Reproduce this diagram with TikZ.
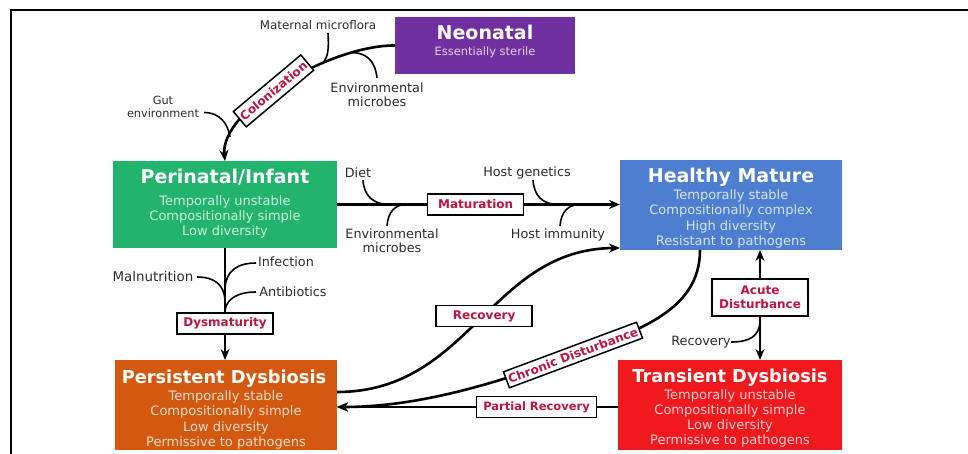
\documentclass[tikz,border=0pt]{standalone}
\usepackage{fontspec}
\setmainfont{DejaVu Sans}
\usetikzlibrary{arrows.meta}
\definecolor{neopurple}{HTML}{7030A0}
\definecolor{perigreen}{HTML}{22B46C}
\definecolor{healblue}{HTML}{4D7ECF}
\definecolor{persorange}{HTML}{D2590F}
\definecolor{tranred}{HTML}{F0191E}
\definecolor{lblred}{HTML}{C0143C}
\definecolor{sidegray}{HTML}{2A2A2A}
\tikzset{
  statebox/.style={draw=none, inner sep=0pt, outer sep=0pt},
  ttl/.style={text=white, font=\bfseries\fontsize{19}{19}\selectfont, anchor=base, inner sep=0pt},
  ttlsm/.style={ttl, font=\bfseries\fontsize{17.8}{19}\selectfont},
  sub/.style={text=#1!22!white, font=\fontsize{13}{14}\selectfont, anchor=base, inner sep=0pt},
  lbl/.style={draw=black, line width=1.5pt, fill=white, text=lblred,
    font=\bfseries\fontsize{12}{14}\selectfont, minimum width=96pt, minimum height=21pt,
    inner sep=2pt, align=center},
  side/.style={text=sidegray, font=\fontsize{12.8}{14}\selectfont, inner sep=0pt, align=center},
  conn/.style={line width=2.6pt},
  arr/.style={conn, -{Stealth[length=11pt,width=9pt]}},
  branch/.style={line width=1.6pt}
}
\begin{document}
\begin{tikzpicture}[x=1pt,y=-1pt]
\useasboundingbox (0,0) rectangle (968,454);
% frame
\draw[line width=2pt] (11,454) -- (11,10.5) -- (968,10.5);

% state boxes
\node[statebox, fill=neopurple, minimum width=180pt, minimum height=57pt] (neo) at (485,45.5) {};
\node[ttl] (neoT) at (485,40) {Neonatal};
\node[sub=neopurple, font=\fontsize{11.5}{12}\selectfont] (neoS) at (485,56) {Essentially sterile};

\node[statebox, fill=perigreen, minimum width=224pt, minimum height=87pt] (peri) at (225,204.5) {};
\node[ttl] (periT) at (225,184) {Perinatal/Infant};
\node[sub=perigreen] (peri1) at (225,206) {Temporally unstable};
\node[sub=perigreen] (peri2) at (225,221) {Compositionally simple};
\node[sub=perigreen] (peri3) at (225,236) {Low diversity};

\node[statebox, fill=healblue, minimum width=222pt, minimum height=90pt] (heal) at (731,205) {};
\node[ttl] (healT) at (731,182.5) {Healthy Mature};
\node[sub=healblue] (heal1) at (731,199.5) {Temporally stable};
\node[sub=healblue] (heal2) at (731,214.5) {Compositionally complex};
\node[sub=healblue] (heal3) at (731,230) {High diversity};
\node[sub=healblue] (heal4) at (731,245) {Resistant to pathogens};

\node[statebox, fill=persorange, minimum width=222pt, minimum height=90pt] (pers) at (226,405) {};
\node[ttlsm] (persT) at (224,383.5) {Persistent Dysbiosis};
\node[sub=persorange] (pers1) at (226,400) {Temporally stable};
\node[sub=persorange] (pers2) at (226,415) {Compositionally simple};
\node[sub=persorange] (pers3) at (226,431) {Low diversity};
\node[sub=persorange] (pers4) at (226,446) {Permissive to pathogens};

\node[statebox, fill=tranred, minimum width=224pt, minimum height=90pt] (tran) at (730,405) {};
\node[ttlsm] (tranT) at (730,382.5) {Transient Dysbiosis};
\node[sub=tranred] (tran1) at (730,399.5) {Temporally unstable};
\node[sub=tranred] (tran2) at (730,414.5) {Compositionally simple};
\node[sub=tranred] (tran3) at (730,429.5) {Low diversity};
\node[sub=tranred] (tran4) at (730,444.5) {Permissive to pathogens};

% ---- colonization
\draw[arr] (neo.west) .. controls (330,45) and (220,110) .. (peri.north)
  node[lbl, rotate=40, pos=0.55, minimum width=88pt, minimum height=20pt, inner sep=1pt] (colon) {Colonization};
\node[side, font=\fontsize{11.9}{13}\selectfont] (matT) at (318,25) {Maternal microflora};
\coordinate (matS) at (328,33);
\coordinate (matJ) at (322,63.6);
\draw[branch] (matS) .. controls (329,50) and (328,58) .. (matJ);
\node[side] (envT) at (377,95) {Environmental\\microbes};
\coordinate (envS) at (377,78);
\coordinate (envJ) at (352,52.5);
\draw[branch] (envS) .. controls (375,60) and (366,53) .. (envJ);
\node[side, font=\fontsize{11.3}{13}\selectfont] (gutT) at (163,106.5) {Gut\\environment};
\coordinate (gutS) at (204,112.5);
\coordinate (gutJ) at (230,137);
\draw[branch] (gutS) .. controls (220,112.5) and (228,124) .. (gutJ);

% ---- maturation
\draw[arr] (peri.east) -- (peri.east -| heal.west)
  node[lbl, pos=0.49] (matur) {Maturation};
\node[side] (dietT) at (358,173) {Diet};
\coordinate (dietS) at (363,180);
\coordinate (dietJ) at (390,204.5);
\draw[branch] (dietS) .. controls (364,196) and (373,204.5) .. (dietJ);
\node[side] (env2T) at (392,241) {Environmental\\microbes};
\coordinate (env2S) at (387,226);
\coordinate (env2J) at (406,204.5);
\draw[branch] (env2S) .. controls (388,212) and (395,204.5) .. (env2J);
\node[side] (hgT) at (527,173) {Host genetics};
\coordinate (hgS) at (533,180);
\coordinate (hgJ) at (558,204.5);
\draw[branch] (hgS) .. controls (534,196) and (543,204.5) .. (hgJ);
\node[side] (hiT) at (558,235) {Host immunity};
\coordinate (hiS) at (560,226);
\coordinate (hiJ) at (580,204.5);
\draw[branch] (hiS) .. controls (561,212) and (568,204.5) .. (hiJ);

% ---- dysmaturity
\draw[arr] (peri.south) -- (peri.south |- pers.north)
  node[lbl, pos=0.674] (dysm) {Dysmaturity};
\node[side, font=\fontsize{13.4}{14}\selectfont] (malT) at (153,277) {Malnutrition};
\coordinate (malS) at (197,277);
\coordinate (malJ) at (225,300);
\draw[branch] (malS) .. controls (215,277) and (224,285) .. (malJ);
\node[side] (infT) at (286,262) {Infection};
\coordinate (infS) at (256,263);
\coordinate (infJ) at (225,288);
\draw[branch] (infS) .. controls (236,263) and (226,272) .. (infJ);
\node[side] (antT) at (293,292) {Antibiotics};
\coordinate (antS) at (256,292);
\coordinate (antJ) at (225,311);
\draw[branch] (antS) .. controls (236,292) and (226,300) .. (antJ);

% ---- recovery (persistent -> healthy)
\draw[arr] (pers.east |- 0,392) .. controls (470,392) and (490,249) .. (heal.west |- 0,248)
  node[lbl, pos=0.52] (recov) {Recovery};

% ---- chronic disturbance
\draw[arr] (heal.south -| 700,0) .. controls (700,310) and (640,330) .. (573,355)
  node[lbl, sloped, pos=1, minimum width=142pt, minimum height=17pt, inner sep=1pt] (chron) {Chronic Disturbance}
  .. controls (499,382.5) and (420,407) .. (pers.east |- 0,407);

% ---- partial recovery
\draw[arr] (tran.west |- 0,407) -- (pers.east |- 0,407)
  node[lbl, pos=0.29, minimum width=120pt, font=\bfseries\fontsize{11.5}{13}\selectfont] (partial) {Partial Recovery};

% ---- acute disturbance
\draw[conn, {Stealth[length=11pt,width=9pt]}-{Stealth[length=11pt,width=9pt]}]
  (heal.south -| 760,0) -- (tran.north -| 760,0)
  node[lbl, pos=0.43, minimum height=37pt] (acute) {Acute\\Disturbance};
\node[side] (rec2T) at (701,342) {Recovery};
\coordinate (rec2S) at (731,342);
\coordinate (rec2J) at (760,322);
\draw[branch] (rec2S) .. controls (750,342) and (759,336) .. (rec2J);
\end{tikzpicture}
\end{document}
